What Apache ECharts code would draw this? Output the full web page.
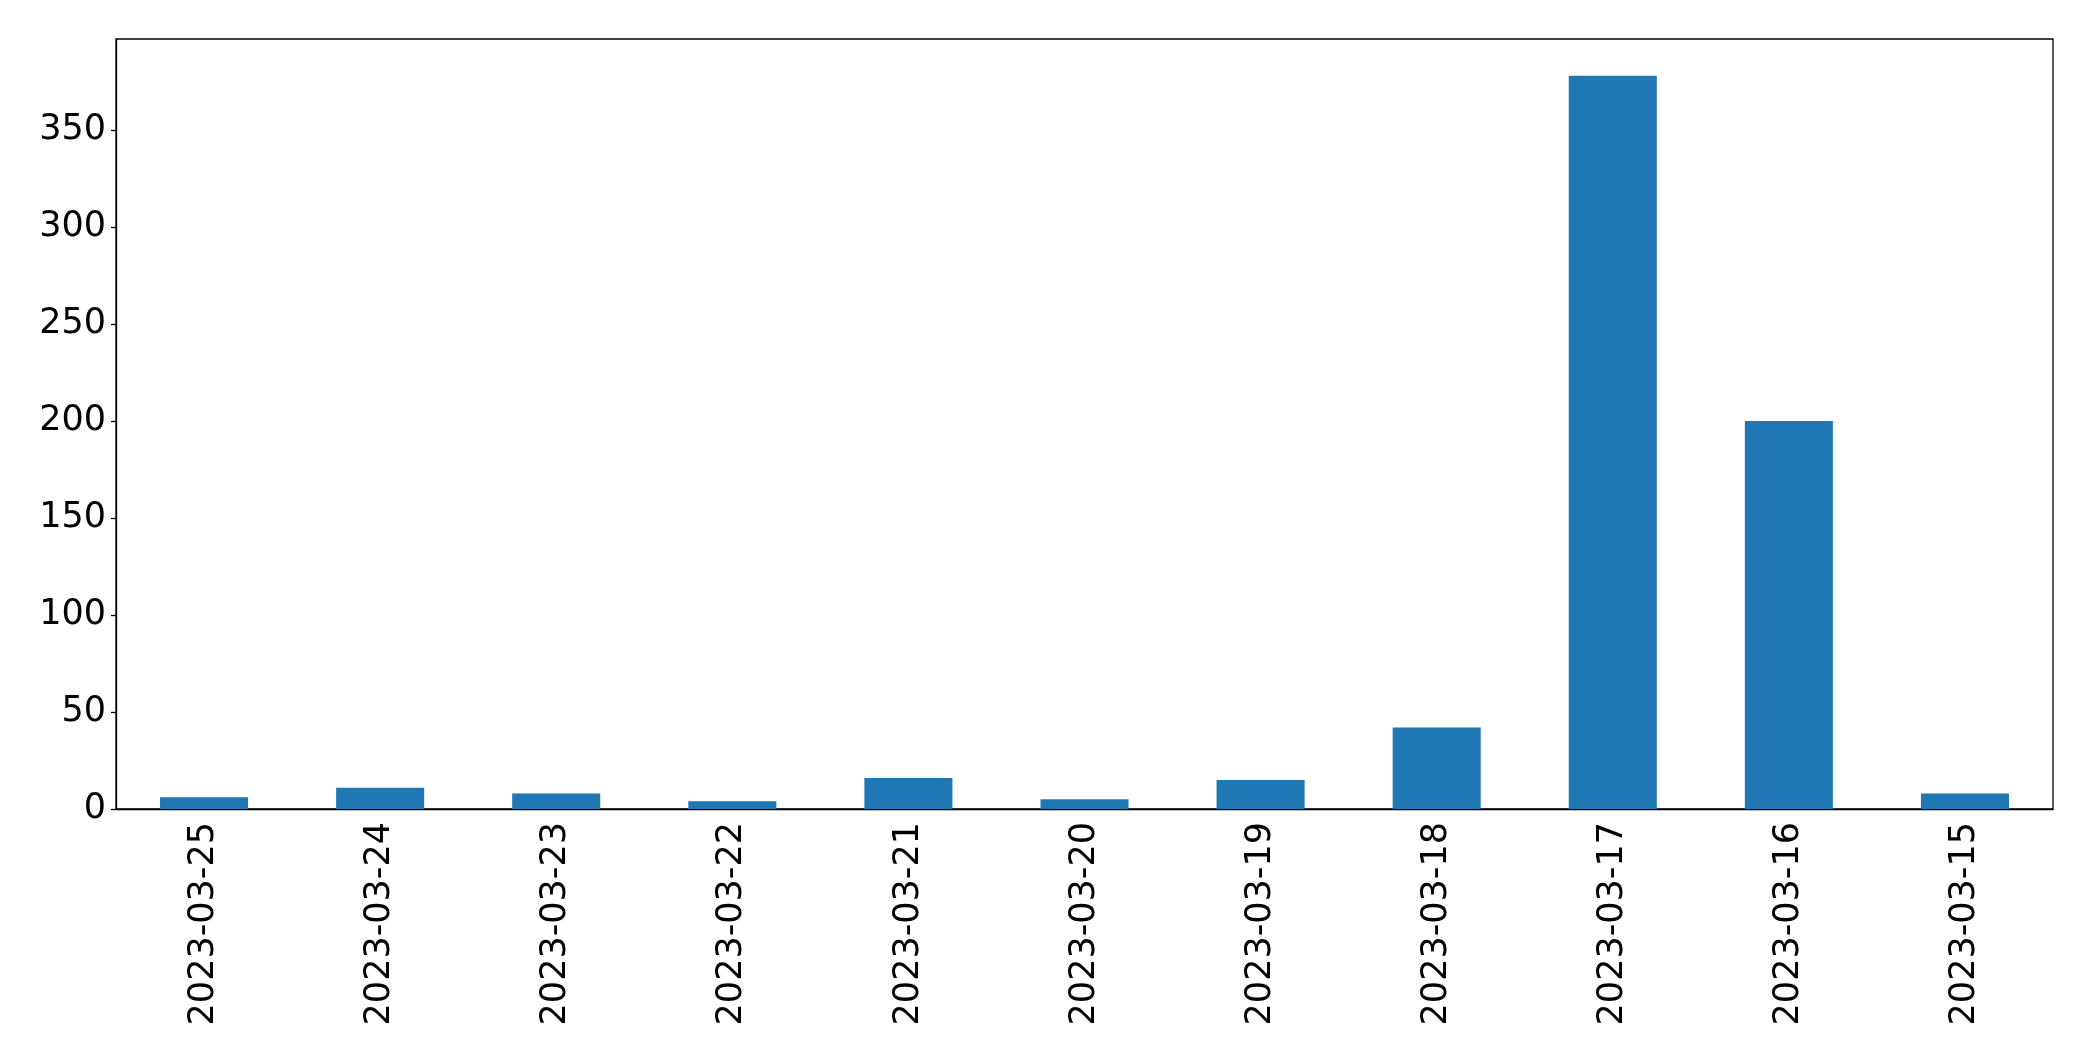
<!DOCTYPE html>
<html>
<head>
<meta charset="utf-8">
<script src="https://cdn.jsdelivr.net/npm/echarts@6/dist/echarts.min.js"></script>
<style>html,body{margin:0;padding:0;background:#fff}#c{width:2093px;height:1061px}</style>
</head>
<body>
<div id="c"></div>
<script>
const categories = ["2023-03-25","2023-03-24","2023-03-23","2023-03-22","2023-03-21","2023-03-20","2023-03-19","2023-03-18","2023-03-17","2023-03-16","2023-03-15"];
const values = [6, 11, 8, 4, 16, 5, 15, 42, 378, 200, 8];
const yTicks = [0, 50, 100, 150, 200, 250, 300, 350];

const chart = echarts.init(document.getElementById('c'), null, {renderer: 'canvas'});
const font = '"DejaVu Sans", sans-serif';
chart.setOption({
  animation: false,
  backgroundColor: '#fff',
  grid: {left: 116, right: 40, top: 39, bottom: 252, show: true, borderColor: '#000', borderWidth: 1.3, backgroundColor: 'transparent'},
  xAxis: {
    type: 'category',
    data: categories,
    boundaryGap: true,
    axisLine: {lineStyle: {color: '#000', width: 1.3}},
    axisTick: {alignWithLabel: true, length: 5, lineStyle: {color: '#000', width: 1.3}},
    axisLabel: {rotate: 90, color: '#000', fontFamily: font, fontSize: 35, margin: 13, interval: 0}
  },
  yAxis: {
    type: 'value',
    min: 0,
    max: 396.9,
    interval: 50,
    splitLine: {show: false},
    axisLine: {show: true, lineStyle: {color: '#000', width: 1.3}},
    axisTick: {show: true, length: 5, lineStyle: {color: '#000', width: 1.3}},
    axisLabel: {color: '#000', fontFamily: font, fontSize: 35, margin: 10, showMaxLabel: false,
      lineHeight: 35, padding: [12, 0, 0, 0],
      formatter: v => yTicks.includes(v) ? String(v) : ''}
  },
  series: [{
    type: 'bar',
    data: values,
    barWidth: '50%',
    itemStyle: {color: '#1f77b4'}
  }]
});
</script>
</body>
</html>
